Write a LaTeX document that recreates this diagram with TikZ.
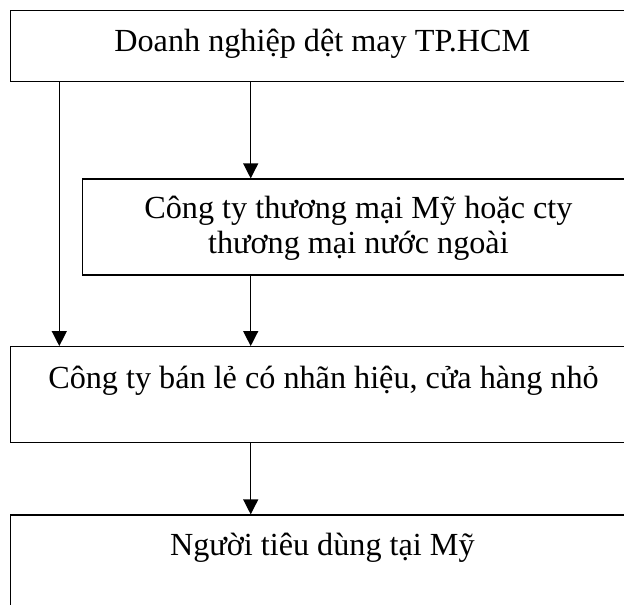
\documentclass[tikz,border=0pt]{standalone}
\usepackage{fontspec}
\setmainfont{Liberation Serif}
\usetikzlibrary{arrows.meta,fit}
\begin{document}
\begin{tikzpicture}[x=0.5pt,y=-0.5pt,
  box/.style={draw,line width=0.65pt,rectangle,inner sep=0pt},
  lbl/.style={anchor=base,inner sep=0pt,font=\fontsize{16.1pt}{17.5pt}\selectfont,align=center},
  arr/.style={line width=0.65pt,-{Triangle[length=7.5pt,width=7.5pt]}}]
\useasboundingbox (0,0) rectangle (624,604);
\clip (0,0) rectangle (624,604);
\node[box,fit={(10.5,10.7) (634,81.7)}] (b1) {};
\node[box,fit={(82.7,179) (634,275)}] (b2) {};
\node[box,fit={(10.5,346.7) (634,442.7)}] (b3) {};
\node[box,fit={(10.5,515) (634,640)}] (b4) {};
\node[lbl] (t1) at (322.3,51.5) {Doanh nghiệp dệt may TP.HCM};
\node[lbl] (t2) at (358.4,253) {Công ty thương mại Mỹ hoặc cty\\thương mại nước ngoài};
\node[lbl] (t3) at (323.5,388.3) {Công ty bán lẻ có nhãn hiệu, cửa hàng nhỏ};
\node[lbl] (t4) at (322.3,555) {Người tiêu dùng tại Mỹ};
\coordinate (xl) at (59.3,0);
\coordinate (xm) at (250.7,0);
\draw[arr] (xl |- b1.south) -- (xl |- b3.north);
\draw[arr] (xm |- b1.south) -- (xm |- b2.north);
\draw[arr] (xm |- b2.south) -- (xm |- b3.north);
\draw[arr] (xm |- b3.south) -- (xm |- b4.north);
\end{tikzpicture}
\end{document}
